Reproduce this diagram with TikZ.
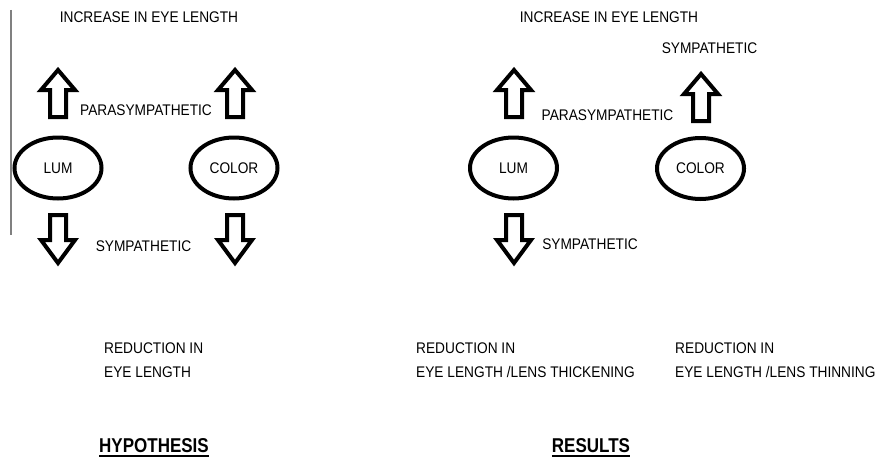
\documentclass[tikz,border=0pt]{standalone}
\usepackage{fontspec}
\setmainfont{Liberation Sans}[FakeStretch=0.89]
\newfontfamily\ttlfont{Liberation Sans}[FakeStretch=0.85]
\usetikzlibrary{shapes.geometric}
\tikzset{
  lbl/.style={inner sep=0pt, font=\fontsize{15.4}{24}\selectfont},
  ttl/.style={inner sep=0pt, font=\ttlfont\fontsize{20}{24}\selectfont\bfseries},
  eye/.style={draw, ellipse, line width=4pt, minimum width=87pt, minimum height=61pt,
    inner sep=0pt, font=\fontsize{15.4}{18}\selectfont},
  blk/.style={draw, line width=4pt, fill=white, line join=miter},
  uparr/.pic={\path[blk] (-8,49) -- (-8,22) -- (-17,22) -- (0,2) -- (17,22) -- (8,22) -- (8,49) -- cycle;},
  downarr/.pic={\path[blk] (-8,2) -- (-8,27) -- (-17,27) -- (0,50) -- (17,27) -- (8,27) -- (8,2) -- cycle;}
}
\begin{document}
\begin{tikzpicture}[x=1pt,y=-1pt]
\useasboundingbox (0,0) rectangle (882,460);
% hypothesis
\draw[line width=2pt, gray] (11,10) -- (11,235);
\node[lbl] (incL) at (149,17) {INCREASE IN EYE LENGTH};
\pic (upLumL) at (58,68) {uparr};
\pic (upColL) at (235,68) {uparr};
\node[lbl] (paraL) at (146,110) {PARASYMPATHETIC};
\node[eye] (lumL) at (58,168) {LUM};
\node[eye] (colL) at (234,168) {COLOR};
\pic (dnLumL) at (58,213) {downarr};
\pic (dnColL) at (235,213) {downarr};
\node[lbl] (symL) at (143.5,246) {SYMPATHETIC};
\node[lbl, anchor=base west, align=left] (redL) at (104,377) {REDUCTION IN\\EYE LENGTH};
\node[ttl] (hyp) at (154,445.5) {HYPOTHESIS};
\draw[line width=2pt] ([yshift=-3.7pt]hyp.south west) -- ([yshift=-3.7pt]hyp.south east);
% results
\node[lbl] (incR) at (609,17) {INCREASE IN EYE LENGTH};
\node[lbl] (symTop) at (709.5,48) {SYMPATHETIC};
\pic (upLumR) at (514,68) {uparr};
\pic (upColR) at (701,72) {uparr};
\node[lbl] (paraR) at (607.5,115) {PARASYMPATHETIC};
\node[eye] (lumR) at (513.5,168) {LUM};
\node[eye] (colR) at (700.5,168.5) {COLOR};
\pic (dnLumR) at (514,213) {downarr};
\node[lbl] (symR) at (590,244) {SYMPATHETIC};
\node[lbl, anchor=base west, align=left] (redThick) at (416,377) {REDUCTION IN\\EYE LENGTH /LENS THICKENING};
\node[lbl, anchor=base west, align=left] (redThin) at (675,377) {REDUCTION IN\\EYE LENGTH /LENS THINNING};
\node[ttl] (res) at (591,445.5) {RESULTS};
\draw[line width=2pt] ([yshift=-3.7pt]res.south west) -- ([yshift=-3.7pt]res.south east);
\end{tikzpicture}
\end{document}
